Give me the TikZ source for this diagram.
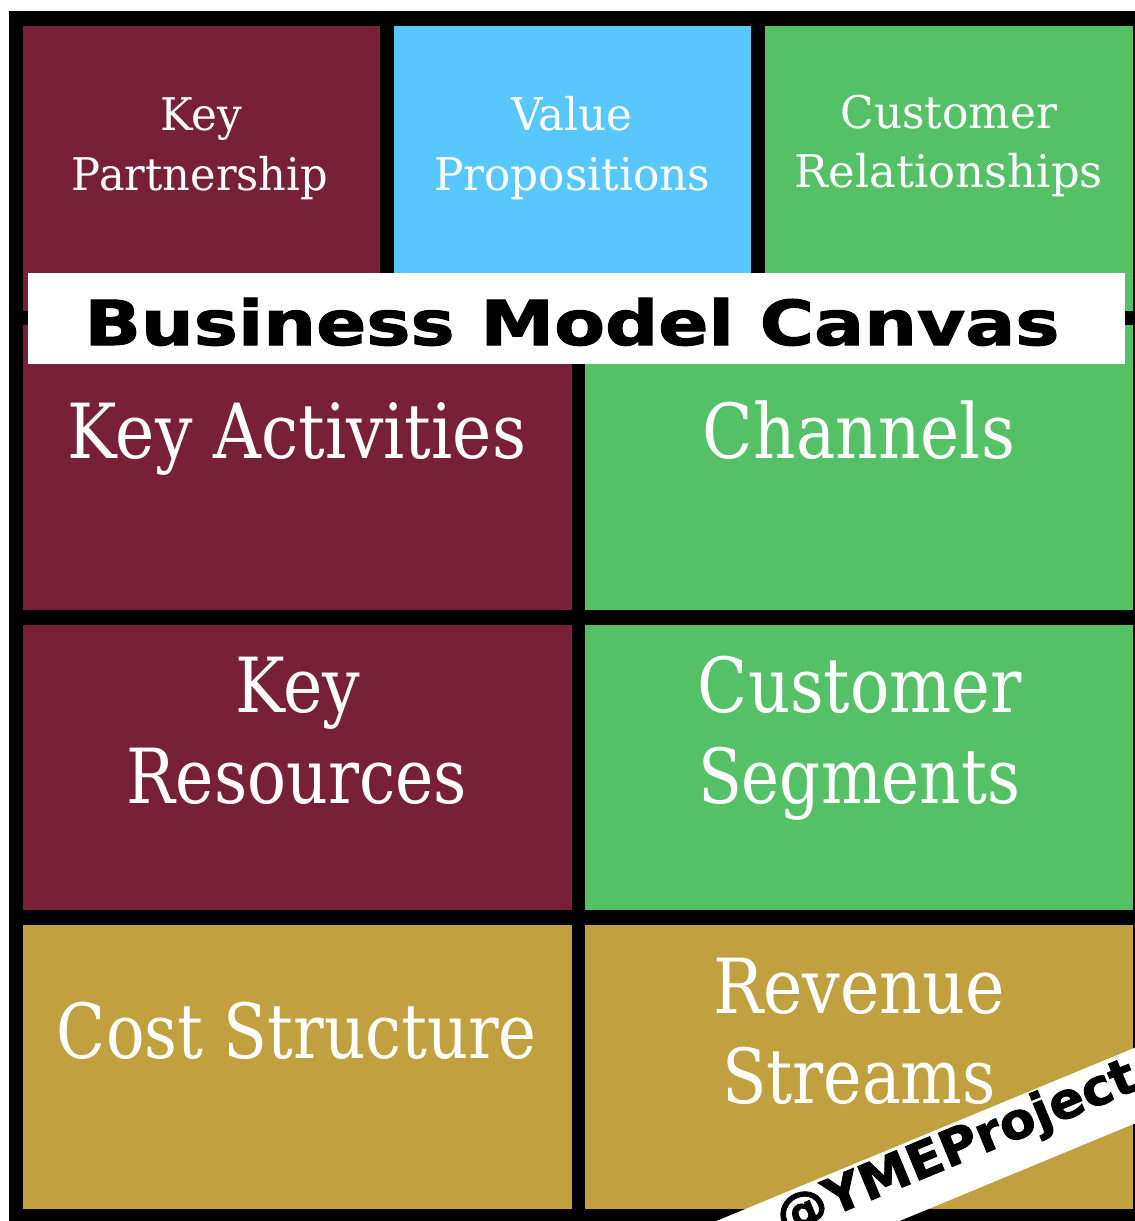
\documentclass[tikz,border=0pt]{standalone}
\usepackage{fontspec}
\usepackage{graphicx}
\setmainfont{DejaVu Serif}
\newfontfamily\heavyfont[BoldFont={DejaVu Sans Bold}, BoldFeatures={FakeBold=1.6}]{DejaVu Sans}

\definecolor{bmcred}{RGB}{119,32,55}
\definecolor{bmcblue}{RGB}{88,199,252}
\definecolor{bmcgreen}{RGB}{85,193,103}
\definecolor{bmcgold}{RGB}{193,160,64}

% set a line of text at its natural height, stretched to a given width
\newcommand{\fitw}[2]{\resizebox{#1}{\height}{#2}}

\tikzset{
  lbl/.style={text=white, inner sep=0pt, outer sep=0pt, anchor=base},
  smalltxt/.style={lbl, font=\fontsize{45}{54}\selectfont},
  bigtxt/.style={lbl, font=\fontsize{76}{90}\selectfont},
}

\begin{document}
\begin{tikzpicture}[x=1pt, y=-1pt]
  \useasboundingbox (0,0) rectangle (1135,1221);
  \clip (0,0) rectangle (1135,1221);
  \fill[white] (0,0) rectangle (1135,1221);
  \fill[black] (9,11) rectangle (1140,1225);

  % top row
  \fill[bmcred]   (23,26)  rectangle (380,311);
  \fill[bmcblue]  (394,26) rectangle (751,311);
  \fill[bmcgreen] (765,26) rectangle (1133,311);
  % second row
  \fill[bmcred]   (23,325)  rectangle (572,610);
  \fill[bmcgreen] (585,325) rectangle (1133,610);
  % third row
  \fill[bmcred]   (23,625)  rectangle (572,910);
  \fill[bmcgreen] (585,625) rectangle (1133,910);
  % bottom row
  \fill[bmcgold]  (23,925)  rectangle (572,1209);
  \fill[bmcgold]  (585,925) rectangle (1133,1209);

  % block titles
  \node[smalltxt] (kp1) at (201,130) {\fitw{82pt}{Key}};
  \node[smalltxt] (kp2) at (200,190) {\fitw{256pt}{Partnership}};
  \node[smalltxt] (vp1) at (572,130) {\fitw{121pt}{Value}};
  \node[smalltxt] (vp2) at (572,190) {\fitw{276pt}{Propositions}};
  \node[smalltxt] (cr1) at (949,128) {\fitw{217pt}{Customer}};
  \node[smalltxt] (cr2) at (949,187) {\fitw{308pt}{Relationships}};

  \node[bigtxt] (ka)  at (297,458) {\fitw{458pt}{Key Activities}};
  \node[bigtxt] (ch)  at (859,458) {\fitw{312pt}{Channels}};
  \node[bigtxt] (kr1) at (298,712) {\fitw{125pt}{Key}};
  \node[bigtxt] (kr2) at (297,803) {\fitw{340pt}{Resources}};
  \node[bigtxt] (cs1) at (860,712) {\fitw{324pt}{Customer}};
  \node[bigtxt] (cs2) at (859,803) {\fitw{322pt}{Segments}};
  \node[bigtxt] (co)  at (297,1058) {\fitw{480pt}{Cost Structure}};
  \node[bigtxt] (rs1) at (859,1013) {\fitw{292pt}{Revenue}};
  \node[bigtxt] (rs2) at (859,1103) {\fitw{274pt}{Streams}};

  % title banner
  \fill[white] (28,273) rectangle (1125,364);
  \node[inner sep=0pt, anchor=base] (title) at (572,345)
    {\fontsize{62}{70}\selectfont\heavyfont\bfseries\fitw{975pt}{Business Model Canvas}};

  % corner tag
  \node[fill=white, minimum width=700pt, minimum height=70pt, inner sep=0pt,
        rotate=22.5] (tagband) at (960,1158) {};
  \node[inner sep=0pt, rotate=22.5] (tag) at (957,1150)
    {\fontsize{50}{60}\selectfont\heavyfont\bfseries\fitw{385pt}{@YMEProject}};
\end{tikzpicture}
\end{document}
